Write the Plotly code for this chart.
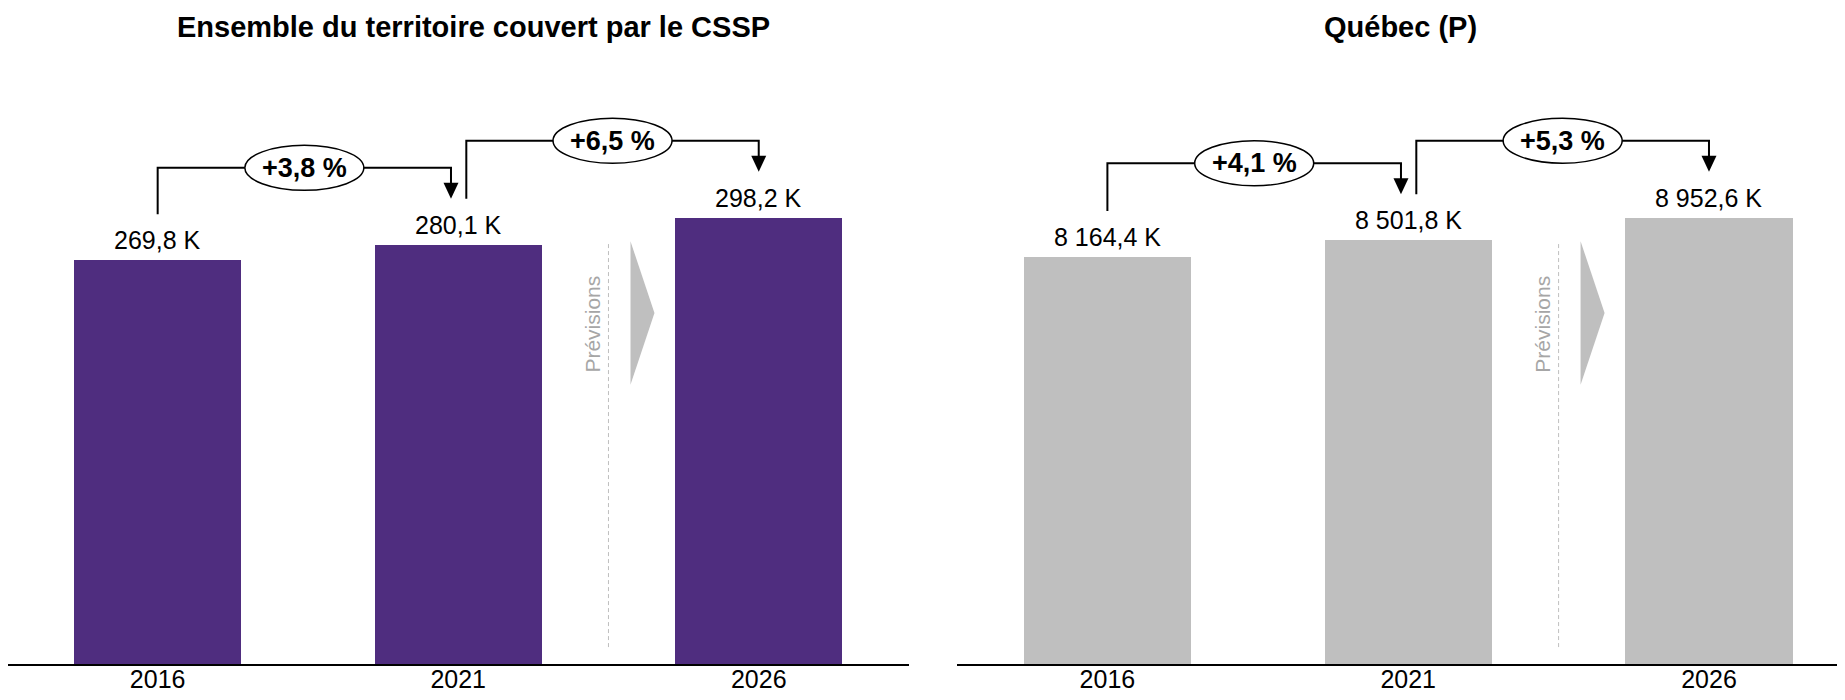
"""Population 2016-2021-2026 : territoire du CSSP vs ensemble du Québec."""
import plotly.graph_objects as go

# Données
YEARS = ["2016", "2021", "2026"]
CSSP_POP = [269.8, 280.1, 298.2]        # milliers
QC_POP = [8164.4, 8501.8, 8952.6]       # milliers
TITLE_CSSP = "Ensemble du territoire couvert par le CSSP"
TITLE_QC = "Québec (P)"
FORECAST_LABEL = "Prévisions"

# Style
PURPLE = "#4f2d7f"
GREY = "#bfbfbf"
FONT = "Liberation Sans, Arial, sans-serif"
# la page ajoute une marge de 8 px autour du graphique
W, H = 1829, 684
AXIS_PX = 656          # ligne de base des barres (px depuis le haut)
PLOT_TOP_PX = 72       # haut de la zone de tracé
PLOT_H = AXIS_PX - PLOT_TOP_PX
HEADROOM = 1.3086


def fr_num(v):
    return f"{v:,.1f}".replace(",", " ").replace(".", ",")


def ypaper(px):
    return (AXIS_PX - px) / AXIS_PX


panels = [
    dict(vals=CSSP_POP, color=PURPLE, title=TITLE_CSSP, xa="x", ya="y",
         dom=(0, 901 / W), rng=(-0.498, 2.5), title_px=465),
    dict(vals=QC_POP, color=GREY, title=TITLE_QC, xa="x2", ya="y2",
         dom=(949 / W, 1.0), rng=(-0.5, 2.4256), title_px=1392),
]

fig = go.Figure()
shapes, annotations = [], []

for k, p in enumerate(panels):
    vals = p["vals"]
    xa, ya = p["xa"], p["ya"]
    idx = list(range(len(vals)))
    ymax = max(vals) * HEADROOM
    upp = ymax / PLOT_H  # unités par pixel

    fig.add_trace(go.Bar(
        x=idx, y=vals, width=0.556, xaxis=xa, yaxis=ya,
        marker=dict(color=p["color"], line=dict(width=0)),
        cliponaxis=False, hoverinfo="skip", showlegend=False,
    ))
    for i, v in enumerate(vals):
        annotations.append(dict(
            xref=xa, yref=ya, x=i, y=v, yshift=20, yanchor="middle",
            text=fr_num(v) + " K", showarrow=False,
            font=dict(size=25, color="black", family=FONT),
        ))

    # crochets de variation
    for i in range(len(vals) - 1):
        v0, v1 = vals[i], vals[i + 1]
        xs = i + (0.027 if i > 0 else 0)
        xe = i + 1 - (0.024 if i + 1 < len(vals) - 1 else 0)
        y_leg = v0 + 46 * upp
        y_bar = v1 + 77 * upp
        y_tip = v1 + 46 * upp
        y_base = y_tip + 14 * upp
        fig.add_trace(go.Scatter(
            x=[xs, xs, xe, xe], y=[y_leg, y_bar, y_bar, y_base],
            mode="lines", line=dict(color="black", width=2),
            xaxis=xa, yaxis=ya, cliponaxis=False,
            hoverinfo="skip", showlegend=False,
        ))
        shapes.append(dict(
            type="path", xref=xa, yref=ya, xsizemode="pixel", ysizemode="pixel",
            xanchor=xe, yanchor=y_tip, path="M-7.5,16 L7.5,16 L0,0 Z",
            fillcolor="black", line=dict(width=0),
        ))
        xm = (xs + xe) / 2
        shapes.append(dict(
            type="circle", xref=xa, yref=ya, xsizemode="pixel", ysizemode="pixel",
            xanchor=xm, yanchor=y_bar, x0=-59.5, x1=59.5, y0=-22.5, y1=22.5,
            fillcolor="white", line=dict(color="black", width=1.5),
        ))
        pct = (v1 / v0 - 1) * 100
        annotations.append(dict(
            xref=xa, yref=ya, x=xm, y=y_bar, showarrow=False,
            text="<b>" + f"+{pct:.1f} %".replace(".", ",") + "</b>",
            font=dict(size=27, color="black", family=FONT),
        ))

    # séparateur des prévisions
    shapes.append(dict(
        type="line", xref=xa, yref=ya + " domain", x0=1.5, x1=1.5,
        y0=0.029, y1=0.724, line=dict(color=GREY, width=1, dash="4px,3px"),
    ))
    shapes.append(dict(
        type="path", xref=xa, yref=ya + " domain", xsizemode="pixel", xanchor=1.5,
        path="M22,0.724 L46,0.601 L22,0.478 Z",
        fillcolor=GREY, line=dict(width=0),
    ))
    annotations.append(dict(
        xref=xa, yref=ya + " domain", x=1.5, xshift=-16, y=0.582,
        text=FORECAST_LABEL, textangle=-90, showarrow=False,
        font=dict(size=21, color="#a6a6a6", family=FONT),
    ))

    # titre
    annotations.append(dict(
        xref="paper", yref="paper", x=p["title_px"] / W, y=ypaper(19),
        xanchor="center", yanchor="middle",
        text="<b>" + p["title"] + "</b>", showarrow=False,
        font=dict(size=29, color="black", family=FONT),
    ))

    axis_x = dict(
        domain=list(p["dom"]), range=list(p["rng"]), anchor=ya,
        tickvals=idx, ticktext=YEARS, ticks="", showgrid=False, zeroline=False,
        showline=True, linecolor="black", linewidth=2,
        tickfont=dict(size=25, color="black", family=FONT),
        ticklabelstandoff=-8,
        automargin=False, fixedrange=True,
    )
    axis_y = dict(
        domain=[0, PLOT_H / AXIS_PX], range=[0, ymax], anchor=xa,
        visible=False, automargin=False, fixedrange=True,
    )
    sfx = "" if k == 0 else str(k + 1)
    fig.update_layout(**{"xaxis" + sfx: axis_x, "yaxis" + sfx: axis_y})

fig.update_layout(
    template="none",
    width=W, height=H,
    margin=dict(l=0, r=0, t=0, b=H - AXIS_PX, pad=0),
    plot_bgcolor="white", paper_bgcolor="white",
    font=dict(family=FONT, color="black"),
    shapes=shapes, annotations=annotations,
    showlegend=False, bargap=0,
)

fig.write_html("out.html")
